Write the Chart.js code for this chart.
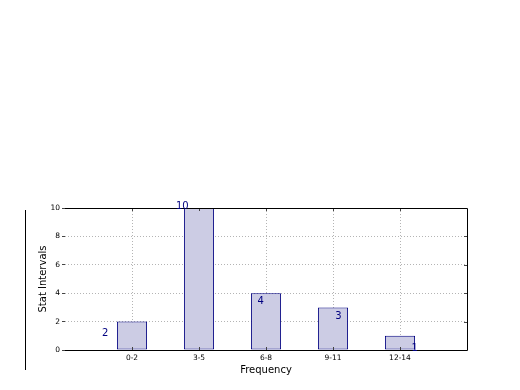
<!DOCTYPE html>
<html><head><meta charset="utf-8">
<script src="https://cdn.jsdelivr.net/npm/chart.js@4"></script>
<style>html,body{margin:0;padding:0;background:#fff;}#c{display:block;}</style>
</head><body>
<canvas id="c" width="520" height="390"></canvas>
<script>
const categories = ['0-2', '3-5', '6-8', '9-11', '12-14'];
const counts = [2, 10, 4, 3, 1];
const yTicks = [0, 2, 4, 6, 8, 10];
// value-label anchors in data units (as placed in the reference)
const labelX = [-0.40, 0.75, 1.92, 3.08, 4.22];
const labelY = [1.20, 10.14, 3.45, 2.36, 0.14];

const FONT = "'DejaVu Sans', sans-serif";

const decor = {
  id: 'decor',
  afterDatasetsDraw(chart) {
    const {ctx, chartArea: a, scales: {x, y}} = chart;
    ctx.save();
    // inner ticks
    ctx.strokeStyle = '#444'; ctx.lineWidth = 1;
    ctx.beginPath();
    categories.forEach((c, i) => { const px = Math.round(x.getPixelForValue(i)) + 0.5; ctx.moveTo(px, a.bottom); ctx.lineTo(px, a.bottom - 3); ctx.moveTo(px, a.top); ctx.lineTo(px, a.top + 3); });
    yTicks.forEach(v => { const py = Math.round(y.getPixelForValue(v)) + 0.5; ctx.moveTo(a.right, py); ctx.lineTo(a.right - 3, py); });
    ctx.stroke();
    // frame: top, right, bottom
    ctx.strokeStyle = '#000'; ctx.lineWidth = 1;
    ctx.beginPath();
    ctx.moveTo(a.left, Math.round(a.top) + 0.5); ctx.lineTo(a.right + 0.5, Math.round(a.top) + 0.5);
    ctx.lineTo(a.right + 0.5, Math.round(a.bottom) + 0.5); ctx.lineTo(a.left, Math.round(a.bottom) + 0.5);
    ctx.stroke();
    // detached left spine
    ctx.beginPath();
    ctx.moveTo(25.5, a.top + 2); ctx.lineTo(25.5, a.bottom + 20);
    ctx.stroke();
    // value labels
    ctx.fillStyle = '#000080';
    ctx.font = '10px ' + FONT;
    ctx.textAlign = 'center'; ctx.textBaseline = 'middle';
    counts.forEach((v, i) => {
      ctx.fillText(String(v), x.getPixelForValue(labelX[i]), y.getPixelForValue(labelY[i]));
    });
    ctx.restore();
  }
};

new Chart(document.getElementById('c'), {
  type: 'bar',
  data: {
    datasets: [{
      data: counts.map((v, i) => ({x: i, y: v})),
      backgroundColor: 'rgb(204,204,228)',
      borderColor: '#000080',
      borderWidth: 1,
      borderSkipped: false,
      categoryPercentage: 0.5,
      barPercentage: 0.9
    }]
  },
  options: {
    responsive: false,
    animation: false,
    layout: {padding: {left: 0, top: 208, right: 53, bottom: 0}},
    plugins: {legend: {display: false}, tooltip: {enabled: false}},
    scales: {
      x: {
        type: 'linear', min: -1, max: 5, offset: false,
        afterBuildTicks: s => { s.ticks = categories.map((c, i) => ({value: i})); },
        afterFit: s => { s.height = 40; },
        border: {display: false, dash: [1, 2]},
        grid: {color: '#b4b4b4', offset: false, drawTicks: false},
        ticks: {callback: v => categories[v] ?? '', font: {family: FONT, size: 7.5}, color: '#000', padding: 4, maxRotation: 0, autoSkip: false},
        title: {display: true, text: 'Frequency', font: {family: FONT, size: 10}, color: '#000', padding: {top: 0, bottom: 14}}
      },
      y: {
        min: 0, max: 10,
        afterBuildTicks: s => { s.ticks = yTicks.map(v => ({value: v})); },
        afterFit: s => { s.width = 65; },
        border: {display: false, dash: [1, 2]},
        grid: {color: '#b4b4b4', tickColor: '#444', tickLength: 3},
        ticks: {font: {family: FONT, size: 7.5}, color: '#000', padding: 2},
        title: {display: true, text: 'Stat Intervals', font: {family: FONT, size: 10}, color: '#000', padding: {top: 37, bottom: 0}}
      }
    }
  },
  plugins: [decor]
});
</script>
</body></html>
